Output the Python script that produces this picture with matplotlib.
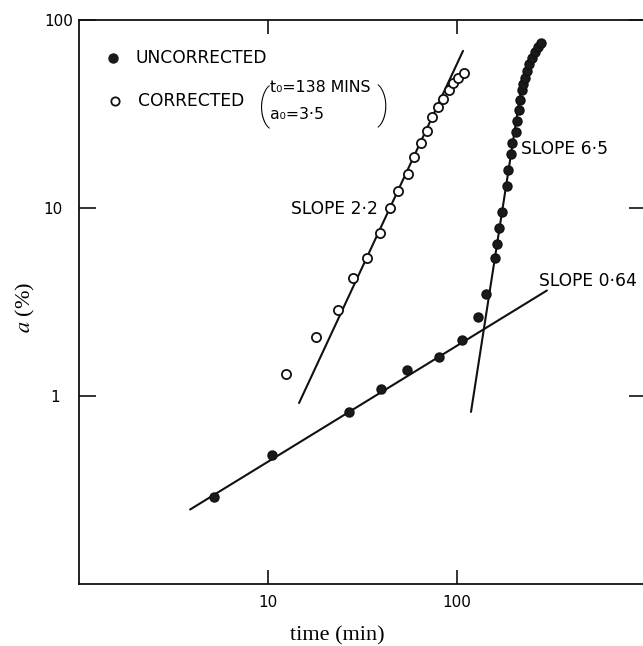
import numpy as np
import matplotlib
matplotlib.use("Agg")
import matplotlib.pyplot as plt

plt.rcParams['font.family'] = ['DejaVu Sans']
plt.rcParams['mathtext.fontset'] = 'stix'

# uncorrected (filled) points: time (min), a (%)
unc_t = [5.18, 10.5, 26.8, 39.6, 54.4, 80.3, 106.3, 129.1, 142.3, 158.9,
         162.8, 166.8, 173.0, 183.9, 186.1, 193.1, 195.4, 205.2, 207.7, 212.8,
         215.4, 220.8, 223.5, 229.0, 234.7, 240.4, 249.4, 258.7, 268.3, 278.3]
unc_a = [0.292, 0.487, 0.823, 1.089, 1.373, 1.608, 1.979, 2.618, 3.508, 5.438,
         6.450, 7.838, 9.524, 13.07, 15.89, 19.31, 22.08, 25.24, 28.86, 33.41,
         37.74, 42.63, 45.86, 49.33, 53.74, 58.53, 62.95, 67.71, 71.97, 75.56]

# corrected (open) points, t0 = 138 min, a0 = 3.5
cor_t = [12.45, 17.95, 23.5, 28.2, 33.4, 39.1, 44.2, 48.7, 55.1, 59.2,
         64.5, 69.4, 73.8, 79.3, 84.3, 90.7, 95.2, 101.2, 108.9]
cor_a = [1.307, 2.052, 2.851, 4.263, 5.438, 7.375, 10.0, 12.30, 15.13, 18.62,
         22.08, 25.55, 30.3, 34.65, 38.2, 42.6, 46.4, 49.3, 52.4]

# fitted straight lines (end points)
fit_064_t = [3.87, 299]
fit_064_a = [0.249, 3.64]
fit_22_t = [14.6, 107.6]
fit_22_a = [0.918, 68.5]
fit_65_t = [118.6, 220]
fit_65_a = [0.823, 45.0]

x_ticks = [10, 100]
y_ticks = [1, 10, 100]

fig = plt.figure(figsize=(6.43, 6.46), dpi=100)
ax = fig.add_axes([79 / 643, 62 / 646, 567 / 643, 564 / 646])
ax.set_xscale('log')
ax.set_yscale('log')
ax.set_xlim(1, 1000)
ax.set_ylim(0.1, 100)

line_kw = dict(color='#111111', lw=1.5, solid_capstyle='round')
ax.plot(fit_064_t, fit_064_a, **line_kw)
ax.plot(fit_22_t, fit_22_a, **line_kw)
ax.plot(fit_65_t, fit_65_a, **line_kw)

ax.plot(unc_t, unc_a, 'o', ms=6.5, color='#1a1a1a', mec='#111111', zorder=3)
ax.plot(cor_t, cor_a, 'o', ms=6.6, mfc='white', mec='#111111', mew=1.3, zorder=3)

# axes frame and ticks
for sp in ax.spines.values():
    sp.set_linewidth(1.3)
    sp.set_color('#111111')
ax.minorticks_off()
ax.set_xticks(x_ticks)
ax.set_xticklabels([str(v) for v in x_ticks])
ax.set_yticks(y_ticks)
ax.set_yticklabels([str(v) for v in y_ticks])
ax.tick_params(axis='both', which='both', direction='in', top=True, right=True,
               width=1.2, color='#111111', labelsize=11)
ax.tick_params(axis='y', length=12.5)
ax.tick_params(axis='x', length=10, pad=8)
for tk, pad in zip(ax.yaxis.get_major_ticks(), [13.5, 12, 4.5]):
    tk.set_pad(pad)

ax.set_xlabel('time (min)', family='Liberation Serif', fontsize=16)
ax.xaxis.set_label_coords(0.455, -0.074)
ax.set_ylabel(r'$a$ (%)', family='Liberation Serif', fontsize=16)
ax.yaxis.label.set_verticalalignment('center')
ax.yaxis.set_label_coords(-0.095, 0.49)

# legend-like lettering
tr = ax.transAxes
ax.plot([0.060], [0.933], 'o', ms=6.5, color='#1a1a1a', transform=tr, clip_on=False)
ax.text(0.1005, 0.933, 'UNCORRECTED', transform=tr, fontsize=12.3, va='center', ha='left')
ax.plot([0.0635], [0.856], 'o', ms=6.0, mfc='white', mec='#111111', mew=1.3,
        transform=tr, clip_on=False)
ax.text(0.104, 0.856, 'CORRECTED', transform=tr, fontsize=12.3, va='center', ha='left')
ax.text(0.326, 0.846, '(', transform=tr, fontsize=30, va='center', ha='center',
        family='Roboto', weight='light')
ax.text(0.336, 0.881, 't₀=138 MINS', transform=tr, fontsize=11.3, va='center', ha='left')
ax.text(0.336, 0.832, 'a₀=3·5', transform=tr, fontsize=11.3, va='center', ha='left')
ax.text(0.535, 0.848, ')', transform=tr, fontsize=30, va='center', ha='center',
        family='Roboto', weight='light')

ax.text(0.527, 0.665, 'SLOPE 2·2', transform=tr, fontsize=12.3, va='center', ha='right')
ax.text(0.780, 0.771, 'SLOPE 6·5', transform=tr, fontsize=12.3, va='center', ha='left')
ax.text(0.811, 0.537, 'SLOPE 0·64', transform=tr, fontsize=12.3, va='center', ha='left')

fig.savefig('out.png', dpi=100)
